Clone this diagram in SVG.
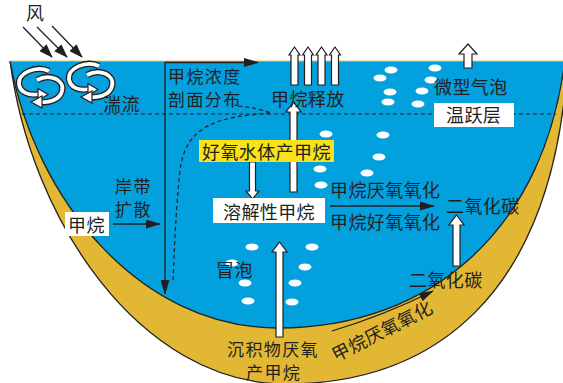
<svg xmlns="http://www.w3.org/2000/svg" xmlns:xlink="http://www.w3.org/1999/xlink" width="563" height="383" viewBox="0 0 563 383">
  <style>
    .t { font-family: "Noto Sans CJK SC", "Noto Sans", sans-serif; font-size: 18px; fill: #231f20; letter-spacing: 0.4px; }
    .s { font-size: 17px; letter-spacing: 1.4px; }
    .ln { stroke: #231f20; stroke-width: 1.3; fill: none; }
    .dash { stroke: #231f20; stroke-width: 1.2; fill: none; stroke-dasharray: 4 3; }
    .hollow { fill: #ffffff; stroke: #231f20; stroke-width: 1.2; stroke-linejoin: miter; }
    .box { fill: #ffffff; }
    .bub { fill: #ffffff; }
    .band-o { fill: none; stroke: #231f20; stroke-width: 6.4; }
    .band-i { fill: none; stroke: #ffffff; stroke-width: 3.8; }
  </style>
  <defs>
    <clipPath id="below-surface">
      <rect x="0" y="61" width="563" height="322"/>
    </clipPath>
    <marker id="ah" markerUnits="userSpaceOnUse" markerWidth="15" markerHeight="9" refX="14" refY="4.5" orient="auto" viewBox="0 0 15 9">
      <path d="M0,0 L15,4.5 L0,9 Z" fill="#231f20"/>
    </marker>
    <marker id="aw" markerUnits="userSpaceOnUse" markerWidth="14" markerHeight="10" refX="13" refY="5" orient="auto" viewBox="0 0 14 10">
      <path d="M0,0 L14,5 L0,10 Z" fill="#231f20"/>
    </marker>
    <!-- circulating eddy: two hollow curved arrows -->
    <g id="eddy-shape">
      <path class="band-o" d="M9,-15 C-4,-21 -22,-13 -21,-2 C-20,7 -10,10 -1,8"/>
      <path class="band-i" d="M9,-15 C-4,-21 -22,-13 -21,-2 C-20,7 -10,10 -1,8"/>
      <path class="hollow" d="M-2,2.5 L8,8.5 L-2,14.5 Z"/>
      <path class="band-o" d="M-3,-6 C10,-13 25,-6 22,5 C20,14 8,17 1,16"/>
      <path class="band-i" d="M-3,-6 C10,-13 25,-6 22,5 C20,14 8,17 1,16"/>
      <path class="hollow" d="M2,10 L-9,16 L2,22 Z"/>
    </g>
  </defs>

  <!-- lake basin: sediment band and water body -->
  <g id="basin" clip-path="url(#below-surface)">
    <path d="M10,60 C30,220 140,383 285,384 C430,384 555,300 568,55 L568,61 L10,61 Z" fill="#e2b733"/>
    <path d="M10,60 C30,220 140,383 285,384 C430,384 555,300 568,55" class="ln" stroke-width="1.2"/>
    <path d="M10,61 C35,200 140,328 278,328 C430,328 548,230 566,50 L566,61 Z" fill="#03a0de"/>
    <path d="M10,61 C35,200 140,328 278,328 C430,328 548,230 566,50" class="ln" stroke-width="1.2"/>
  </g>
  <line id="surface" x1="10" y1="61" x2="563" y2="61" stroke="#d8c47c" stroke-width="1.2"/>

  <!-- bubbles -->
  <g id="bubbles">
    <ellipse class="bub" cx="391" cy="70" rx="6.5" ry="3.5"/>
    <ellipse class="bub" cx="380" cy="78" rx="6.5" ry="3.5"/>
    <ellipse class="bub" cx="435" cy="68" rx="6.5" ry="3.5"/>
    <ellipse class="bub" cx="431" cy="80" rx="6.5" ry="3.5"/>
    <ellipse class="bub" cx="390" cy="92" rx="6.5" ry="3.5"/>
    <ellipse class="bub" cx="422" cy="91" rx="6.5" ry="3.5"/>
    <ellipse class="bub" cx="388" cy="102" rx="6.5" ry="3.5"/>
    <ellipse class="bub" cx="418" cy="104" rx="6.5" ry="3.5"/>
    <ellipse class="bub" cx="383" cy="135" rx="6.5" ry="3.5"/>
    <ellipse class="bub" cx="326" cy="134" rx="6.5" ry="3.5"/>
    <ellipse class="bub" cx="379" cy="157" rx="6.5" ry="3.5"/>
    <ellipse class="bub" cx="320" cy="169" rx="6.5" ry="3.5"/>
    <ellipse class="bub" cx="367" cy="173" rx="6.5" ry="3.5"/>
    <ellipse class="bub" cx="321" cy="185" rx="6.5" ry="3.5"/>
    <ellipse class="bub" cx="252" cy="247" rx="6.5" ry="3.5"/>
    <ellipse class="bub" cx="312" cy="247" rx="6.5" ry="3.5"/>
    <ellipse class="bub" cx="232" cy="263" rx="6.5" ry="3.5"/>
    <ellipse class="bub" cx="305" cy="267" rx="6.5" ry="3.5"/>
    <ellipse class="bub" cx="245" cy="283" rx="6.5" ry="3.5"/>
    <ellipse class="bub" cx="295" cy="283" rx="6.5" ry="3.5"/>
    <ellipse class="bub" cx="248" cy="301" rx="6.5" ry="3.5"/>
    <ellipse class="bub" cx="292" cy="302" rx="6.5" ry="3.5"/>
  </g>

  <!-- connectors -->
  <g id="connectors">
    <line class="ln" x1="23" y1="27" x2="52" y2="57" marker-end="url(#aw)"/>
    <line class="ln" x1="37" y1="27" x2="67" y2="57" marker-end="url(#aw)"/>
    <line class="ln" x1="52" y1="26" x2="82" y2="57" marker-end="url(#aw)"/>
    <path class="dash" d="M22,114 H556"/>
    <line class="ln" x1="165" y1="62.5" x2="258" y2="62.5" marker-end="url(#ah)"/>
    <line class="ln" x1="165" y1="62" x2="165" y2="294" marker-end="url(#ah)"/>
    <path class="dash" d="M238,106 Q258,108 271,113 C215,117 186,126 180,170 C176,210 174,250 173,283"/>
    <line class="ln" x1="113" y1="224" x2="160" y2="224" marker-end="url(#ah)"/>
    <line class="ln" x1="330" y1="206" x2="434" y2="206" marker-end="url(#ah)"/>
    <path class="ln" d="M332,331 Q385,315 433,291" marker-end="url(#ah)"/>
    <!-- hollow flux arrows -->
    <path class="hollow" d="M294.5,47 L300,55 L298,55 L298,85 L291,85 L291,55 L289,55 Z"/>
    <path class="hollow" d="M308,47 L313.5,55 L311.5,55 L311.5,85 L304.5,85 L304.5,55 L302.5,55 Z"/>
    <path class="hollow" d="M321.5,47 L327,55 L325,55 L325,85 L318,85 L318,55 L316,55 Z"/>
    <path class="hollow" d="M335,47 L340.5,55 L338.5,55 L338.5,85 L331.5,85 L331.5,55 L329.5,55 Z"/>
    <path class="hollow" d="M468,44 L477,54 L472,54 L472,68 L464,68 L464,54 L459,54 Z"/>
    <path class="hollow" d="M293.5,102 L301,112 L297,112 L297,192 L290,192 L290,112 L286,112 Z"/>
    <path class="hollow" d="M252.5,199 L259,191 L255.5,191 L255.5,162 L249.5,162 L249.5,191 L246,191 Z"/>
    <path class="hollow" d="M456.5,215 L464,225 L460,225 L460,266 L453,266 L453,225 L449,225 Z"/>
    <path class="hollow" d="M279.5,242 L287,252 L283,252 L283,337 L276,337 L276,252 L272,252 Z"/>
  </g>

  <!-- eddies -->
  <g id="eddy-left"><use xlink:href="#eddy-shape" transform="translate(40,86)"/></g>
  <g id="eddy-right"><use xlink:href="#eddy-shape" transform="translate(90,81)"/></g>

  <!-- labels -->
  <g id="wind"><text class="t" x="26" y="20" font-size="17">风</text></g>
  <g id="turbulence"><text class="t" x="103" y="111">湍流</text></g>
  <g id="profile">
    <text class="t s" x="168" y="83">甲烷浓度</text>
    <text class="t s" x="168" y="106">剖面分布</text>
  </g>
  <g id="release"><text class="t" x="271" y="106">甲烷释放</text></g>
  <g id="microbubbles"><text class="t" x="434" y="94">微型气泡</text></g>
  <g id="thermocline">
    <rect class="box" x="434" y="103" width="80" height="24"/>
    <text class="t" x="446" y="122">温跃层</text>
  </g>
  <g id="oxic-production">
    <rect x="199" y="140" width="135" height="22" fill="#f8e21c"/>
    <text class="t" x="202" y="159">好氧水体产甲烷</text>
  </g>
  <g id="dissolved">
    <rect class="box" x="213" y="198" width="112" height="25"/>
    <text class="t" x="223" y="219">溶解性甲烷</text>
  </g>
  <g id="oxidation">
    <text class="t" x="330" y="197">甲烷厌氧氧化</text>
    <text class="t" x="330" y="229">甲烷好氧氧化</text>
  </g>
  <g id="co2-upper"><text class="t" x="446" y="213">二氧化碳</text></g>
  <g id="co2-lower"><text class="t" x="409" y="287">二氧化碳</text></g>
  <g id="littoral">
    <text class="t s" x="115" y="193">岸带</text>
    <text class="t s" x="115" y="216">扩散</text>
  </g>
  <g id="methane-shore">
    <rect class="box" x="65" y="212" width="44" height="24"/>
    <text class="t" x="68" y="232">甲烷</text>
  </g>
  <g id="ebullition"><text class="t" x="216" y="277">冒泡</text></g>
  <g id="sediment">
    <text class="t s" x="227" y="356">沉积物厌氧</text>
    <text class="t s" x="246" y="379">产甲烷</text>
  </g>
  <g id="sediment-oxidation">
    <text class="t" x="336" y="362" transform="rotate(-27 336 362)">甲烷厌氧氧化</text>
  </g>
</svg>
